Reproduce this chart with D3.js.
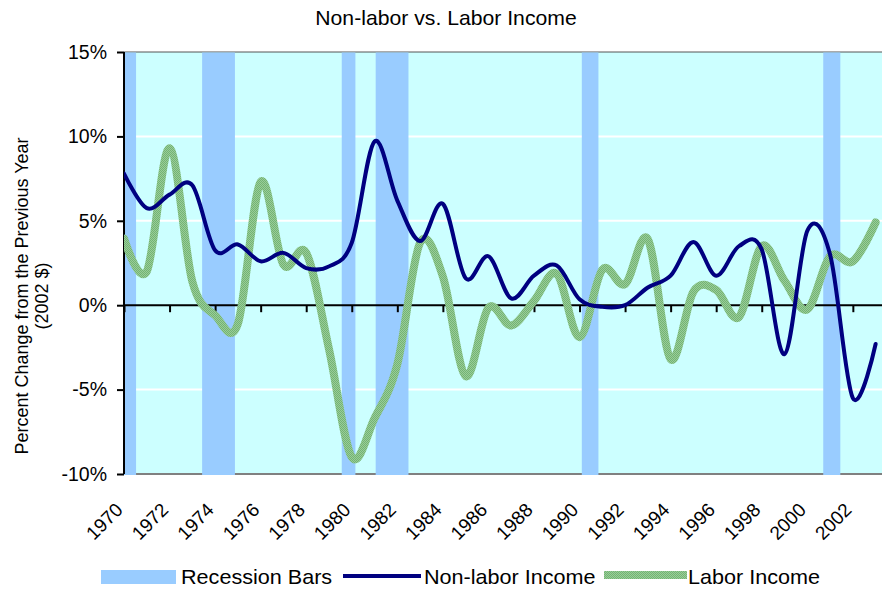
<!DOCTYPE html>
<html>
<head>
<meta charset="utf-8">
<script src="https://cdn.jsdelivr.net/npm/d3@7"></script>
<style>
  html, body { margin: 0; padding: 0; background: #ffffff; }
  svg text { font-family: "Liberation Sans", Arial, sans-serif; fill: #000; }
</style>
</head>
<body>
<svg id="chart" width="882" height="590"></svg>
<script>
// Annual percent change, 1970-2003 (2002 dollars)
const years = [1970, 1971, 1972, 1973, 1974, 1975, 1976, 1977, 1978, 1979,
               1980, 1981, 1982, 1983, 1984, 1985, 1986, 1987, 1988, 1989,
               1990, 1991, 1992, 1993, 1994, 1995, 1996, 1997, 1998, 1999,
               2000, 2001, 2002, 2003];
const nonLaborIncome = [7.8, 5.75, 6.55, 7.1, 3.25, 3.6, 2.6, 3.1, 2.2, 2.3,
                        3.7, 9.7, 6.2, 3.8, 6.0, 1.6, 2.9, 0.4, 1.75, 2.35,
                        0.35, -0.1, 0.0, 1.05, 1.75, 3.75, 1.75, 3.5, 3.3, -2.9,
                        4.4, 3.0, -5.5, -2.3];
const laborIncome = [3.95, 2.0, 9.3, 1.4, -0.6, -1.1, 7.3, 2.4, 3.1, -2.6,
                     -9.0, -6.7, -3.5, 3.7, 1.7, -4.2, -0.15, -1.2, 0.25, 1.85,
                     -1.9, 2.1, 1.25, 3.9, -3.2, 0.8, 0.9, -0.7, 3.5, 1.45,
                     -0.25, 2.9, 2.6, 4.9];
// Recession periods on the year axis: [start, end]
const recessionStart = [1970.0, 1973.43, 1979.56, 1981.05, 1990.10, 2000.70];
const recessionEnd   = [1970.53, 1974.87, 1980.16, 1982.49, 1990.83, 2001.45];
// Axis ticks
const yTicks = [-10, -5, 0, 5, 10, 15];
const xTickYears = [1970, 1972, 1974, 1976, 1978, 1980, 1982, 1984, 1986, 1988,
                    1990, 1992, 1994, 1996, 1998, 2000, 2002];
const titleText = "Non-labor vs. Labor Income";
const yTitleLines = ["Percent Change from the Previous Year", "(2002 $)"];
const legendLabels = ["Recession Bars", "Non-labor Income", "Labor Income"];

const svg = d3.select("#chart");
const plot = { left: 124, right: 882, top: 52, bottom: 474 };

const x = d3.scaleLinear().domain([1970, 2003.28]).range([plot.left, plot.right]);
const y = d3.scaleLinear().domain([-10, 15]).range([plot.bottom, plot.top]);

// Hatched green texture for the labor-income line
const defs = svg.append("defs");
const pat = defs.append("pattern").attr("id", "greenTex")
  .attr("patternUnits", "userSpaceOnUse").attr("width", 2).attr("height", 2);
pat.append("rect").attr("width", 2).attr("height", 2).attr("fill", "#99cc99");
pat.append("rect").attr("width", 1).attr("height", 1).attr("fill", "#73b473");
pat.append("rect").attr("x", 1).attr("y", 1).attr("width", 1).attr("height", 1).attr("fill", "#73b473");
defs.append("clipPath").attr("id", "plotClip").append("rect")
  .attr("x", plot.left).attr("y", plot.top - 2)
  .attr("width", plot.right - plot.left).attr("height", plot.bottom - plot.top + 4);

// Plot background
svg.append("rect")
  .attr("x", plot.left).attr("y", plot.top)
  .attr("width", plot.right - plot.left).attr("height", plot.bottom - plot.top)
  .attr("fill", "#ccffff");

// Horizontal gridlines
svg.append("g").selectAll("line")
  .data(yTicks.filter(v => v !== 0 && v !== 15 && v !== -10))
  .join("line")
  .attr("x1", plot.left).attr("x2", plot.right)
  .attr("y1", d => y(d)).attr("y2", d => y(d))
  .attr("stroke", "#ffffff").attr("stroke-width", 2);

// Plot border (top and bottom)
svg.append("line").attr("x1", plot.left).attr("x2", plot.right)
  .attr("y1", plot.top).attr("y2", plot.top)
  .attr("stroke", "#555555").attr("stroke-width", 1);
svg.append("line").attr("x1", plot.left).attr("x2", plot.right)
  .attr("y1", plot.bottom).attr("y2", plot.bottom)
  .attr("stroke", "#808080").attr("stroke-width", 2);

// Recession bars
svg.append("g").selectAll("rect")
  .data(recessionStart.map((s, i) => [s, recessionEnd[i]]))
  .join("rect")
  .attr("x", d => x(d[0]))
  .attr("width", d => x(d[1]) - x(d[0]))
  .attr("y", plot.top + 0.5)
  .attr("height", plot.bottom - plot.top + 0.5)
  .attr("fill", "#99ccff");

// Zero axis with ticks
const xAxis = d3.axisBottom(x).tickValues(xTickYears).tickSize(7).tickFormat("");
const xg = svg.append("g").attr("transform", `translate(0,${y(0)})`).call(xAxis);
xg.select(".domain").attr("stroke", "#000").attr("stroke-width", 2)
  .attr("d", `M${plot.left},0H${plot.right}`);
xg.selectAll(".tick line").attr("stroke", "#000").attr("stroke-width", 2);

// Year labels along the bottom, rotated
svg.append("g").selectAll("text")
  .data(xTickYears)
  .join("text")
  .attr("transform", d => `translate(${x(d)},${plot.bottom + 37}) rotate(-45)`)
  .attr("text-anchor", "end")
  .style("font-size", "19px")
  .text(d => d);

// Value axis
const yAxis = d3.axisLeft(y).tickValues(yTicks).tickSize(7).tickPadding(10)
  .tickFormat(d => d + "%");
const yg = svg.append("g").attr("transform", `translate(${plot.left},0)`).call(yAxis);
yg.select(".domain").attr("stroke", "#000").attr("stroke-width", 2)
  .attr("d", `M0,${plot.top}V${plot.bottom}`);
yg.selectAll(".tick line").attr("stroke", "#000").attr("stroke-width", 2);
yg.selectAll(".tick text").style("font-size", "19.5px")
  .style("font-family", "'Liberation Sans', Arial, sans-serif").attr("fill", "#000");

// Series lines
const line = d3.line()
  .x((d, i) => x(years[i]))
  .y(d => y(d))
  .curve(d3.curveCardinal.tension(0));

const lines = svg.append("g").attr("clip-path", "url(#plotClip)");
lines.append("path").datum(laborIncome)
  .attr("d", line).attr("fill", "none")
  .attr("stroke", "url(#greenTex)").attr("stroke-width", 8)
  .attr("stroke-linejoin", "round").attr("stroke-linecap", "round");
lines.append("path").datum(nonLaborIncome)
  .attr("d", line).attr("fill", "none")
  .attr("stroke", "#000080").attr("stroke-width", 4)
  .attr("stroke-linejoin", "round").attr("stroke-linecap", "round");

// Title
svg.append("text")
  .attr("transform", "translate(446,25) scale(1.06,1)")
  .attr("text-anchor", "middle").style("font-size", "20px")
  .text(titleText);

// Y axis title, two lines
const yt = svg.append("text")
  .attr("transform", `translate(0,${296}) rotate(-90)`)
  .attr("text-anchor", "middle").style("font-size", "18px");
yt.selectAll("tspan").data(yTitleLines).join("tspan")
  .attr("x", 0).attr("y", (d, i) => 28 + i * 20)
  .text(d => d);

// Legend
const lg = svg.append("g");
lg.append("rect").attr("x", 101).attr("y", 570).attr("width", 75).attr("height", 14)
  .attr("fill", "#99ccff");
lg.append("line").attr("x1", 343).attr("x2", 421).attr("y1", 576).attr("y2", 576)
  .attr("stroke", "#000080").attr("stroke-width", 4);
lg.append("line").attr("x1", 604).attr("x2", 687).attr("y1", 575).attr("y2", 575)
  .attr("stroke", "url(#greenTex)").attr("stroke-width", 8);
const legendX = [181, 424, 688];
lg.selectAll("text.leg").data(legendLabels).join("text")
  .attr("class", "leg")
  .attr("transform", (d, i) => `translate(${legendX[i]},584) scale(1.08,1)`)
  .style("font-size", "20px")
  .text(d => d);
</script>
</body>
</html>
